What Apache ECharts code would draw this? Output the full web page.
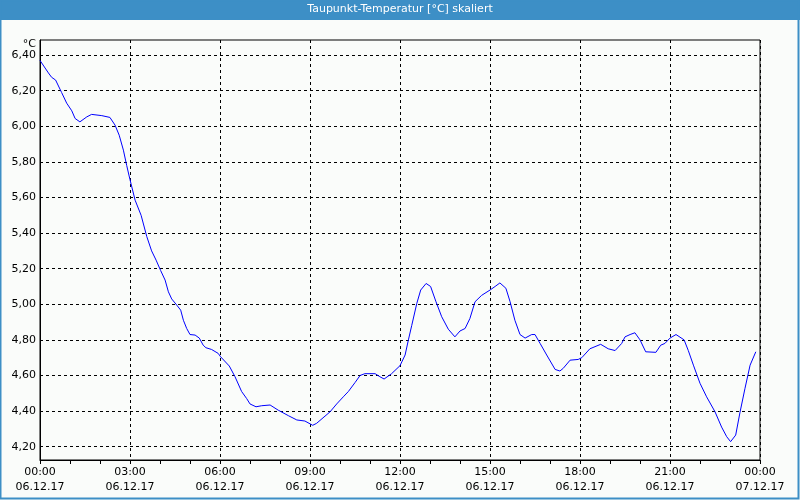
<!DOCTYPE html>
<html>
<head>
<meta charset="utf-8">
<script src="https://cdn.jsdelivr.net/npm/echarts@6/dist/echarts.min.js"></script>
<style>
html,body{margin:0;padding:0;background:#fafcfa;}
#c{width:800px;height:500px;}
</style>
</head>
<body>
<div id="c"></div>
<script>
// Hours since 06.12.17 00:00
const hours = [0.00,0.28,0.39,0.52,0.72,0.89,1.06,1.17,1.33,1.56,1.72,2.06,2.33,2.50,2.64,2.78,2.89,3.00,3.17,3.37,3.56,3.72,3.87,4.02,4.17,4.28,4.39,4.56,4.69,4.78,4.89,5.00,5.17,5.31,5.44,5.53,5.72,5.94,6.02,6.31,6.50,6.72,6.89,7.00,7.20,7.39,7.67,7.94,8.28,8.56,8.83,9.09,9.22,9.67,9.89,10.11,10.28,10.50,10.67,10.83,11.17,11.33,11.47,11.72,12.00,12.17,12.28,12.39,12.56,12.69,12.87,13.02,13.20,13.39,13.61,13.83,14.00,14.17,14.33,14.50,14.72,15.00,15.17,15.33,15.53,15.67,15.83,16.00,16.17,16.39,16.50,16.67,16.89,17.17,17.33,17.44,17.67,17.94,18.06,18.33,18.69,18.94,19.17,19.39,19.50,19.67,19.83,20.00,20.19,20.53,20.69,20.83,21.00,21.20,21.47,21.61,21.78,22.00,22.22,22.50,22.72,22.89,23.02,23.19,23.33,23.50,23.67,23.86];
const dewpoint = [6.37,6.30,6.275,6.26,6.19,6.13,6.087,6.044,6.025,6.053,6.067,6.06,6.05,6.007,5.95,5.866,5.78,5.70,5.585,5.50,5.38,5.30,5.248,5.19,5.136,5.07,5.03,4.995,4.967,4.91,4.864,4.83,4.827,4.81,4.77,4.756,4.746,4.724,4.705,4.653,4.593,4.51,4.47,4.44,4.424,4.43,4.434,4.405,4.374,4.35,4.344,4.32,4.331,4.396,4.44,4.48,4.51,4.56,4.60,4.61,4.61,4.593,4.58,4.61,4.655,4.715,4.80,4.88,5.005,5.08,5.117,5.10,5.014,4.93,4.86,4.817,4.85,4.864,4.92,5.014,5.05,5.08,5.10,5.12,5.09,5.014,4.91,4.83,4.81,4.83,4.83,4.78,4.715,4.634,4.625,4.64,4.686,4.69,4.70,4.75,4.775,4.75,4.74,4.78,4.817,4.83,4.84,4.80,4.733,4.73,4.77,4.78,4.81,4.83,4.80,4.74,4.658,4.556,4.48,4.396,4.31,4.256,4.228,4.265,4.39,4.528,4.658,4.733];
const yTicks = [4.2,4.4,4.6,4.8,5.0,5.2,5.4,5.6,5.8,6.0,6.2,6.4];
const xTimeLabels = ['00:00','03:00','06:00','09:00','12:00','15:00','18:00','21:00','00:00'];
const xDateLabels = ['06.12.17','06.12.17','06.12.17','06.12.17','06.12.17','06.12.17','06.12.17','06.12.17','07.12.17'];
const titleText = 'Taupunkt-Temperatur [°C] skaliert';
const unitText = '°C';

const chart = echarts.init(document.getElementById('c'), null, {renderer:'canvas'});
const font = 'Tahoma, "DejaVu Sans", "Liberation Sans", sans-serif';
chart.setOption({
  backgroundColor: '#fafcfa',
  animation: false,
  graphic: [
    {type:'rect', shape:{x:0,y:0,width:800,height:20}, style:{fill:'#3d8fc6'}, z:0},
    {type:'rect', shape:{x:0.5,y:0.5,width:798,height:498}, style:{fill:null, stroke:'#3d8fc6', lineWidth:2}, z:0},
    {type:'text', left:'center', top:4, style:{text:titleText, fill:'#ffffff', font:'11px ' + font}, z:10},
    {type:'text', right:764, top:39, style:{text:unitText, fill:'#000', font:'11px ' + font, align:'right'}, z:10}
  ],
  grid: {left:40, right:40, top:40, bottom:40, outerBoundsMode:'none', containLabel:false, show:true, borderColor:'#000', borderWidth:1, backgroundColor:'transparent'},
  xAxis: {
    type:'value', min:0, max:24, interval:3,
    axisLine:{show:true, lineStyle:{color:'#000', width:1}},
    axisTick:{show:true, inside:false, length:4, lineStyle:{color:'#000'}},
    minorTick:{show:true, splitNumber:3, length:4, lineStyle:{color:'#000'}},
    splitLine:{show:true, lineStyle:{color:'#000', type:[3,3], width:1}},
    axisLabel:{
      margin:5, lineHeight:15, color:'#000', fontFamily:font, fontSize:11,
      formatter: function(v){ const i = Math.round(v/3); return xTimeLabels[i] + '\n' + xDateLabels[i]; }
    }
  },
  yAxis: {
    type:'value', min:4.125, max:6.485,
    axisLine:{show:true, lineStyle:{color:'#000', width:1}},
    axisTick:{show:false, customValues: yTicks},
    splitLine:{show:true, lineStyle:{color:'#000', type:[3,3], width:1}},
    axisLabel:{
      customValues: yTicks, margin:4, color:'#000', fontFamily:font, fontSize:11,
      formatter: function(v){ return v.toFixed(2).replace('.', ','); }
    }
  },
  series: [{
    type:'line', showSymbol:false, symbol:'none',
    data: hours.map((h,i)=>[h, dewpoint[i]]),
    lineStyle:{color:'#0000ff', width:1},
    z:5
  }]
});
</script>
</body>
</html>
